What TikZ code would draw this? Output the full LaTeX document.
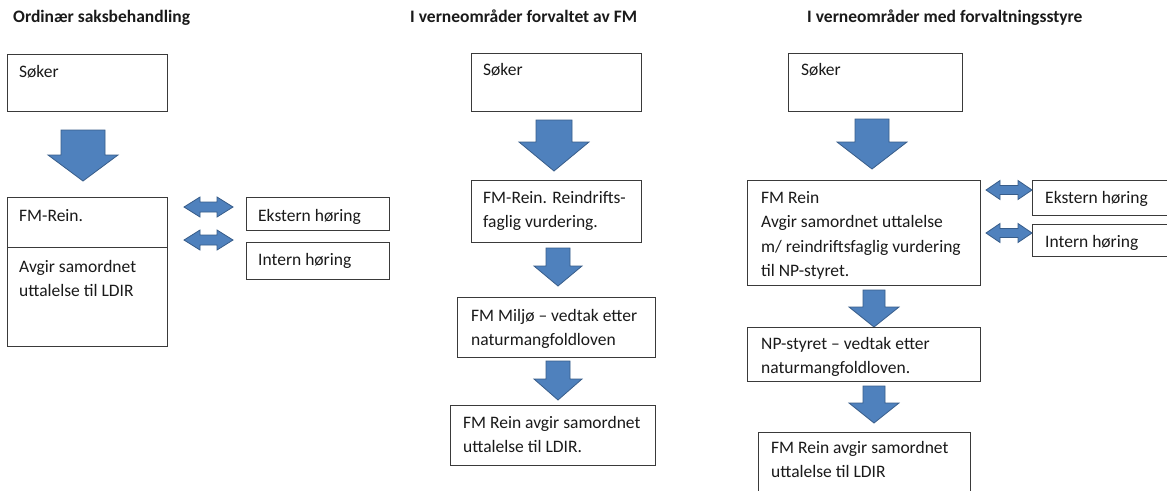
\documentclass[tikz,border=0pt]{standalone}
\usepackage{fontspec}
\setmainfont{Carlito}
\definecolor{boxgray}{HTML}{3A3A3A}
\definecolor{textgray}{HTML}{1A1A1A}
\definecolor{arrowfill}{HTML}{4F81BD}
\definecolor{arrowline}{HTML}{385D8A}
\newcommand\boxlines[1]{\begin{tabular}[t]{@{}l@{}}#1\end{tabular}}
\newcommand\dnarrow[6]{%
  \draw[blockarrow] ({#1-#3},#2) -- ({#1+#3},#2) -- ({#1+#3},#4) -- ({#1+#5},#4)
    -- (#1,#6) -- ({#1-#5},#4) -- ({#1-#3},#4) -- cycle;}
\newcommand\lrarrow[6]{%
  \draw[blockarrow] (#1,#3) -- ({#1+#4},{#3-#5}) -- ({#1+#4},{#3-#6}) -- ({#2-#4},{#3-#6})
    -- ({#2-#4},{#3-#5}) -- (#2,#3) -- ({#2-#4},{#3+#5}) -- ({#2-#4},{#3+#6})
    -- ({#1+#4},{#3+#6}) -- ({#1+#4},{#3+#5}) -- cycle;}
\tikzset{
  box/.style={draw=boxgray, line width=1.3pt, fill=white, rectangle, inner sep=0pt, anchor=north west},
  txt/.style={inner sep=0pt, anchor=base west, text=textgray, font=\fontsize{17.5}{24.6}\selectfont},
  ttl/.style={txt, font=\fontsize{17.5}{24.6}\selectfont\bfseries},
  blockarrow/.style={fill=arrowfill, draw=arrowline, line width=0.8pt, line join=miter}
}
\begin{document}
\begin{tikzpicture}[x=1pt,y=-1pt]
\useasboundingbox (0,0) rectangle (1167,490);
\clip (0,0) rectangle (1167,490);
\fill[white] (0,0) rectangle (1167,490);

% titles
\node[ttl] (t1) at (13,22) {Ordinær saksbehandling};
\node[ttl] (t2) at (410,22) {I verneområder forvaltet av FM};
\node[ttl] (t3) at (807,22) {I verneområder med forvaltningsstyre};

% left column
\node[box, minimum width=160pt, minimum height=57pt] (ls) at (7,54) {};
\node[txt] (lst) at (19,77) {Søker};
\dnarrow{83}{130}{22}{155}{35}{181}
\node[box, minimum width=160pt, minimum height=50pt] (lf) at (7,197) {};
\node[txt] (lft) at (19,221) {FM-Rein.};
\node[box, minimum width=160pt, minimum height=99pt] (la) at (7,247) {};
\node[txt] (lat) at (19,272) {\boxlines{Avgir samordnet\\uttalelse til LDIR}};
\node[box, minimum width=143pt, minimum height=33pt] (le) at (246,197) {};
\node[txt] (let) at (258,221) {Ekstern høring};
\node[box, minimum width=143pt, minimum height=37pt] (li) at (246,242) {};
\node[txt] (lit) at (258,265) {Intern høring};
\lrarrow{184}{233}{207}{16}{10}{5}
\lrarrow{184}{233}{240}{16}{10}{5}

% middle column
\node[box, minimum width=170pt, minimum height=58pt] (ms) at (471,53) {};
\node[txt] (mst) at (483,75) {Søker};
\dnarrow{554}{120}{18}{142}{35}{171}
\node[box, minimum width=170pt, minimum height=62pt] (mf) at (471,180) {};
\node[txt] (mft) at (483,203) {\boxlines{FM-Rein. Reindrifts-\\faglig vurdering.}};
\dnarrow{558}{248}{12}{266}{24}{286}
\node[box, minimum width=198pt, minimum height=60pt] (mm) at (457,297) {};
\node[txt] (mmt) at (471,321) {\boxlines{FM Miljø – vedtak etter\\naturmangfoldloven}};
\dnarrow{558}{361}{12}{379}{24}{400}
\node[box, minimum width=205pt, minimum height=60pt] (mr) at (450,405) {};
\node[txt] (mrt) at (463,428) {\boxlines{FM Rein avgir samordnet\\uttalelse til LDIR.}};

% right column
\node[box, minimum width=174pt, minimum height=58pt] (rs) at (788,53) {};
\node[txt] (rst) at (801,75) {Søker};
\dnarrow{872}{119}{17}{142}{35}{169}
\node[box, minimum width=233pt, minimum height=105pt] (rf) at (747,180) {};
\node[txt] (rft) at (761,203) {\boxlines{FM Rein\\Avgir samordnet uttalelse\\m/ reindriftsfaglig vurdering\\til NP-styret.}};
\node[box, minimum width=145pt, minimum height=35pt] (re) at (1032,180) {};
\node[txt] (ret) at (1045,203) {Ekstern høring};
\node[box, minimum width=145pt, minimum height=32pt] (ri) at (1032,224) {};
\node[txt] (rit) at (1045,247) {Intern høring};
\lrarrow{986}{1032}{190}{14}{9.5}{4.5}
\lrarrow{986}{1032}{233}{14}{9.5}{4.5}
\dnarrow{874}{290}{11}{307}{25}{327}
\node[box, minimum width=233pt, minimum height=54pt] (rn) at (747,327) {};
\node[txt] (rnt) at (761,349) {\boxlines{NP-styret – vedtak etter\\naturmangfoldloven.}};
\dnarrow{874}{386}{11}{403}{25}{423}
\node[box, minimum width=212pt, minimum height=70pt] (rr) at (758,432) {};
\node[txt] (rrt) at (771,453) {\boxlines{FM Rein avgir samordnet\\uttalelse til LDIR}};
\end{tikzpicture}
\end{document}
